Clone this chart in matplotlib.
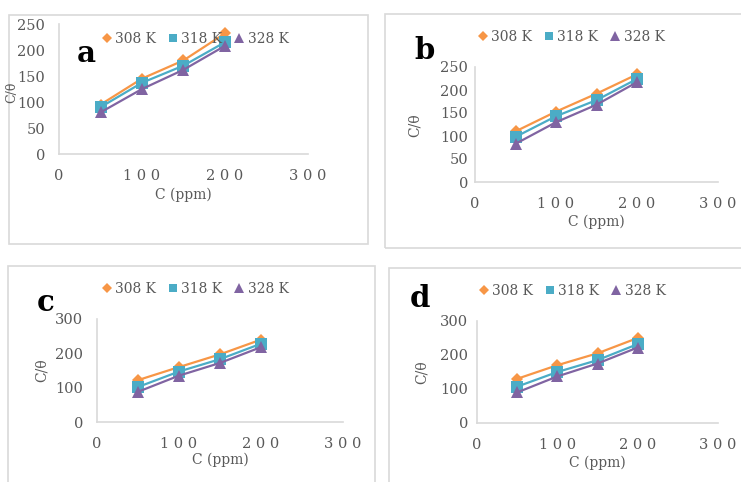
import matplotlib
matplotlib.use("Agg")
import matplotlib.pyplot as plt
from matplotlib.patches import Rectangle

W, H = 741, 482

conc = [50, 100, 150, 200]
series_labels = ["308 K", "318 K", "328 K"]

a_308 = [95, 145, 180, 232]
a_318 = [90, 137, 170, 215]
a_328 = [80, 125, 162, 208]

b_308 = [110, 153, 192, 234]
b_318 = [98, 143, 178, 224]
b_328 = [83, 130, 168, 217]

c_308 = [122, 160, 197, 240]
c_318 = [102, 147, 183, 228]
c_328 = [88, 135, 172, 218]

d_308 = [130, 170, 205, 250]
d_318 = [107, 150, 185, 232]
d_328 = [90, 137, 175, 222]

x_ticks = [0, 100, 200, 300]
x_tick_labels = ["0", "1 0 0", "2 0 0", "3 0 0"]
y_ticks_ab = [0, 50, 100, 150, 200, 250]
y_ticks_cd = [0, 100, 200, 300]

colors = ["#F79646", "#4BACC6", "#8064A2"]
markers = ["D", "s", "^"]
msizes = [6.5, 8, 8.5]
GRAY = "#595959"
BOX = "#D9D9D9"
plt.rcParams["font.family"] = ["DejaVu Serif"]

fig = plt.figure(figsize=(W / 100, H / 100), dpi=100)


def fx(px):
    return px / W


def fy(py):
    return 1 - py / H


def box(l, t, r, b):
    fig.patches.append(Rectangle((fx(l), fy(b)), fx(r) - fx(l), fy(t) - fy(b),
                                 transform=fig.transFigure, fill=False,
                                 edgecolor=BOX, linewidth=1.2))


panels = [
    dict(box=(9, 15, 368, 244), ax=(59, 24, 308, 154), ymax=250, yt=y_ticks_ab,
         data=[a_308, a_318, a_328], letter="a", lpos=(77, 62), leg=(195, 39),
         ylab=(12, 92), ypad=10, xlab_y=195, ylfs=9, ytfs=10.5),
    dict(box=(385, 14, 745, 248), ax=(475, 67, 718, 182), ymax=250, yt=y_ticks_ab,
         data=[b_308, b_318, b_328], letter="b", lpos=(414, 59), leg=(571, 37),
         ylab=(415, 125), ypad=5, xlab_y=222, ylfs=10, ytfs=10.5),
    dict(box=(8, 266, 375, 490), ax=(97, 319, 343, 422), ymax=300, yt=y_ticks_cd,
         data=[c_308, c_318, c_328], letter="c", lpos=(37, 311), leg=(195, 289),
         ylab=(42, 370), ypad=10, xlab_y=460, ylfs=10, ytfs=10.5),
    dict(box=(389, 268, 745, 490), ax=(477, 321, 718, 423), ymax=300, yt=y_ticks_cd,
         data=[d_308, d_318, d_328], letter="d", lpos=(410, 307), leg=(572, 291),
         ylab=(422, 372), ypad=6.5, xlab_y=463, ylfs=10, ytfs=10.5),
]

for p in panels:
    box(*p["box"])
    l, t, r, b = p["ax"]
    ax = fig.add_axes([fx(l), fy(b), fx(r) - fx(l), fy(t) - fy(b)])
    ax.patch.set_alpha(0)
    handles = []
    for vals, c, m, ms, lab in zip(p["data"], colors, markers, msizes, series_labels):
        ax.plot(conc, vals, color=c, linewidth=1.6, marker=m, markersize=ms,
                markeredgewidth=0, clip_on=False, zorder=3)
        h, = ax.plot([], [], color=c, marker=m, linestyle="none",
                     markersize=ms * 0.8, markeredgewidth=0, label=lab)
        handles.append(h)
    ax.set_xlim(0, 300)
    ax.set_ylim(0, p["ymax"])
    ax.set_xticks(x_ticks)
    ax.set_xticklabels(x_tick_labels)
    ax.set_yticks(p["yt"])
    ax.tick_params(length=0, labelcolor=GRAY)
    ax.tick_params(axis="y", pad=p["ypad"], labelsize=p["ytfs"])
    ax.tick_params(axis="x", pad=11, labelsize=10.5)
    for s in ["top", "right"]:
        ax.spines[s].set_visible(False)
    for s in ["left", "bottom"]:
        ax.spines[s].set_color(BOX)
        ax.spines[s].set_linewidth(1.2)
    fig.text(fx((l + r) / 2), fy(p["xlab_y"]), "C (ppm)", ha="center", va="center",
             fontsize=10, color=GRAY)
    fig.text(fx(p["ylab"][0]), fy(p["ylab"][1]), "C/θ", ha="center", va="center",
             rotation=90, fontsize=p["ylfs"], color=GRAY)
    fig.text(fx(p["lpos"][0]), fy(p["lpos"][1]), p["letter"], ha="left",
             va="baseline", fontsize=21, fontweight="bold", color="black")
    leg = fig.legend(handles=handles, loc="center",
                     bbox_to_anchor=(fx(p["leg"][0]), fy(p["leg"][1])),
                     ncol=3, frameon=False, fontsize=10, handlelength=0.8,
                     handletextpad=0.2, columnspacing=0.8, borderpad=0)
    for txt in leg.get_texts():
        txt.set_color(GRAY)

fig.savefig("out.png", dpi=100)
